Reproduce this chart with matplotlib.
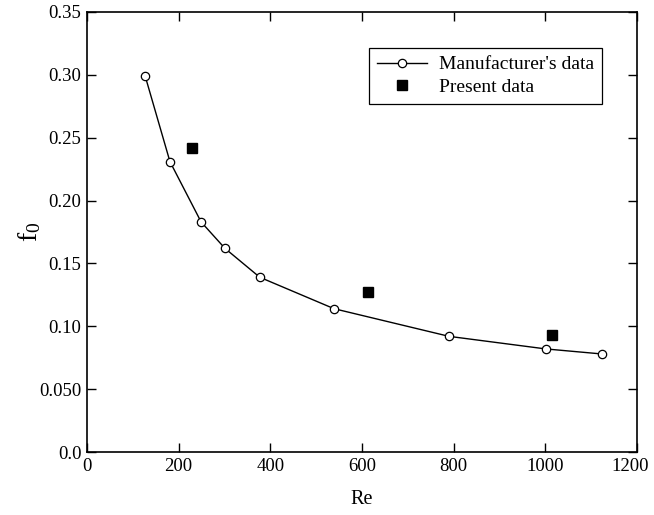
import matplotlib.pyplot as plt
from matplotlib.ticker import FixedLocator, FixedFormatter
from matplotlib.transforms import ScaledTranslation

plt.rcParams['font.family'] = ['Liberation Serif', 'DejaVu Serif']

# manufacturer's data
re_man = [127, 181, 249, 301, 377, 539, 790, 1001, 1123]
f0_man = [0.299, 0.231, 0.183, 0.162, 0.139, 0.114, 0.092, 0.082, 0.078]

# present data
re_pre = [230, 614, 1015]
f0_pre = [0.242, 0.127, 0.093]

y_ticks = [0.0, 0.05, 0.10, 0.15, 0.20, 0.25, 0.30, 0.35]
y_labels = ['0.0', '0.050', '0.10', '0.15', '0.20', '0.25', '0.30', '0.35']

fig = plt.figure(figsize=(6.54, 5.15), dpi=100)
ax = fig.add_axes([0.133, 0.1223, 0.841, 0.8544])

ax.plot(re_man, f0_man, 'k-', lw=1, marker='o', mfc='white', mec='k',
        ms=6, mew=0.9, label="Manufacturer's data")
ax.plot(re_pre, f0_pre, 'ks', ms=7, ls='none', label='Present data')

ax.set_xlim(0, 1200)
ax.set_ylim(0, 0.35)
ax.set_xticks([0, 200, 400, 600, 800, 1000, 1200])
ax.yaxis.set_major_locator(FixedLocator(y_ticks))
ax.yaxis.set_major_formatter(FixedFormatter(y_labels))
ax.tick_params(direction='in', length=6.5, width=1, top=True, right=True,
               labelsize=13.5, pad=4)
for s in ax.spines.values():
    s.set_linewidth(1.2)

# nudge the last x label so it stays inside the figure
last = ax.get_xticklabels()[-1]
last.set_transform(last.get_transform() + ScaledTranslation(-5/72, 0, fig.dpi_scale_trans))

ax.set_xlabel('Re', fontsize=14.5, labelpad=11)
ax.set_ylabel('$\\mathregular{f_0}$', fontsize=20, labelpad=-3)

leg = ax.legend(loc='upper right', bbox_to_anchor=(0.936, 0.918), fontsize=14,
                frameon=True, fancybox=False, edgecolor='k', framealpha=1,
                borderaxespad=0, borderpad=0.4, handlelength=2.6,
                labelspacing=0.25, handletextpad=0.6)
leg.get_frame().set_linewidth(0.9)

fig.savefig('out.png', dpi=100)
